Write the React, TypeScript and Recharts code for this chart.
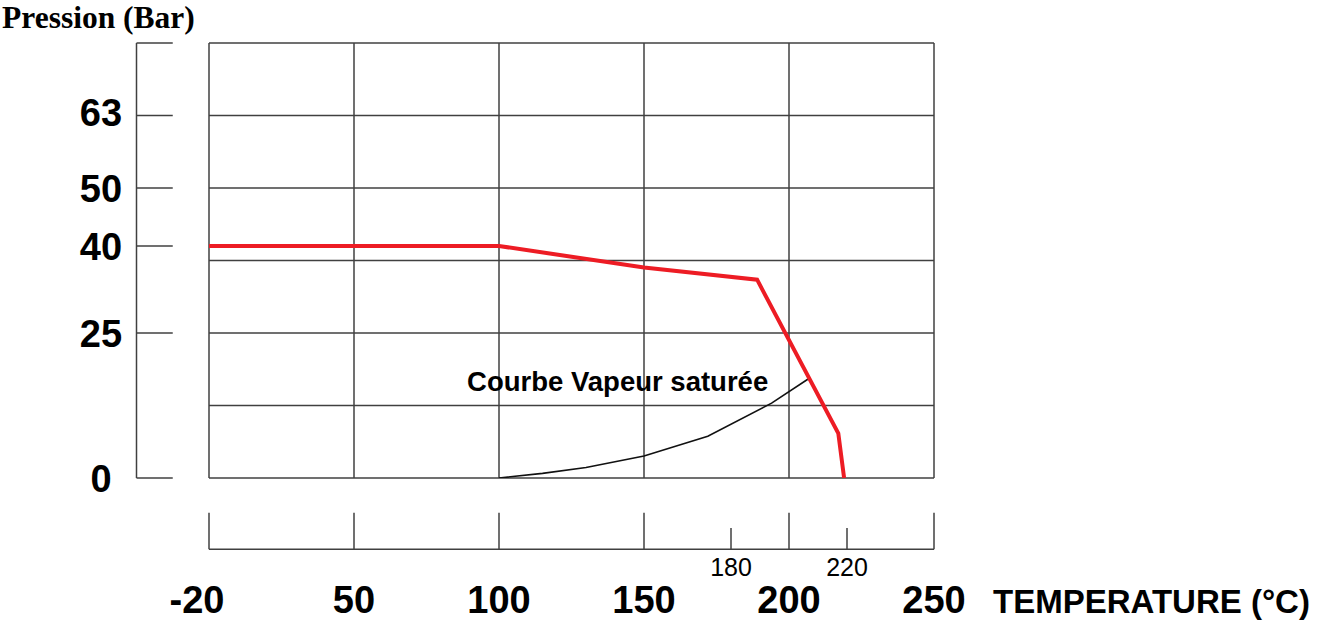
import { ComposedChart, Line, XAxis, YAxis, ReferenceLine, ReferenceDot } from "recharts"

// temperature (°C) -> axis position: -20..50 is squeezed into one step, then 50 °C per step
const toPos = (t: number) => (t <= 50 ? (t + 20) / 70 : 1 + (t - 50) / 50)
const fromPos = (p: number) => Math.round(p <= 1 ? p * 70 - 20 : 50 + (p - 1) * 50)

const majorTemps = [-20, 50, 100, 150, 200, 250]
const minorTemps = [180, 220]
const pressureTicks = [0, 25, 40, 50, 63]
const pressureMarks = [0, 25, 40, 50, 62.5, 75]
const gridPressures = [0, 12.5, 25, 37.5, 50, 62.5, 75]

// limite d'utilisation (rouge)
const limitTemps = [-20, 100, 150, 189, 217, 219]
const limitPressures = [40, 40, 36.3, 34.2, 7.7, 0]

// courbe vapeur saturée
const satTemps = [100, 115, 130, 150, 172, 194, 207]
const satPressures = [0, 0.8, 1.8, 3.8, 7.2, 12.9, 17.2]

const limitData = limitTemps.map((t, i) => ({ x: toPos(t), p: limitPressures[i] }))
const satData = satTemps.map((t, i) => ({ x: toPos(t), p: satPressures[i] }))

const GRID = "#404040"
const SANS = "'Liberation Sans', Arial, sans-serif"

// left scale band and bottom scale band, in axis units
const bandLeft = -0.5
const bandLeftEnd = -0.25
const bandTop = -6
const bandMinorTop = -8.6
const bandBottom = -12.3

const XTick = (props: any) => {
  const { x, y, payload } = props
  const t = fromPos(payload.value)
  if (minorTemps.includes(t)) {
    return (
      <text x={x} y={y + 98} textAnchor="middle" fontFamily={SANS} fontSize={25} fill="#000">
        {t}
      </text>
    )
  }
  return (
    <text
      x={t === -20 ? x - 12 : x}
      y={y + 135}
      textAnchor="middle"
      fontFamily={SANS}
      fontSize={38}
      fontWeight={700}
      fill="#000"
    >
      {t}
    </text>
  )
}

const YTick = (props: any) => {
  const { x, y, payload } = props
  return (
    <text x={x - 108} y={y + 13.5} textAnchor="middle" fontFamily={SANS} fontSize={38} fontWeight={700} fill="#000">
      {payload.value}
    </text>
  )
}

export default function App() {
  const xTicks = [...majorTemps, ...minorTemps].map(toPos)

  return (
    <div style={{ position: "absolute", left: 0, top: 0, width: 1317, height: 623, background: "#fff" }}>
      <div
        style={{
          position: "absolute",
          left: 2,
          top: 0,
          fontFamily: "'Liberation Serif', 'Times New Roman', serif",
          fontWeight: 700,
          fontSize: 31.5,
          lineHeight: "normal",
          whiteSpace: "nowrap"
        }}
      >
        Pression (Bar)
      </div>
      <div
        style={{
          position: "absolute",
          left: 993,
          top: 585,
          fontFamily: SANS,
          fontWeight: 700,
          fontSize: 33,
          lineHeight: "33px",
          whiteSpace: "nowrap"
        }}
      >
        TEMPERATURE (°C)
      </div>

      <ComposedChart width={1317} height={623} margin={{ top: 43, right: 383, bottom: 0, left: 0 }}>
        <XAxis
          type="number"
          dataKey="x"
          domain={[0, 5]}
          allowDataOverflow
          ticks={xTicks}
          interval={0}
          tick={<XTick />}
          tickSize={0}
          tickMargin={0}
          axisLine={false}
          tickLine={false}
          height={145}
        />
        <YAxis
          type="number"
          dataKey="p"
          domain={[0, 75]}
          allowDataOverflow
          ticks={pressureTicks}
          interval={0}
          tick={<YTick />}
          tickSize={0}
          tickMargin={0}
          axisLine={false}
          tickLine={false}
          width={209}
        />

        {/* grid */}
        {gridPressures.map(v => (
          <ReferenceLine key={"gy" + v} y={v} stroke={GRID} strokeWidth={1.5} ifOverflow="visible" />
        ))}
        {majorTemps.map(t => (
          <ReferenceLine key={"gx" + t} x={toPos(t)} stroke={GRID} strokeWidth={1.5} ifOverflow="visible" />
        ))}

        {/* left pressure scale */}
        <ReferenceLine
          segment={[{ x: bandLeft, y: 0 }, { x: bandLeft, y: 75 }]}
          stroke={GRID}
          strokeWidth={1.5}
          ifOverflow="visible"
        />
        {pressureMarks.map(v => (
          <ReferenceLine
            key={"pm" + v}
            segment={[{ x: bandLeft, y: v }, { x: bandLeftEnd, y: v }]}
            stroke={GRID}
            strokeWidth={1.5}
            ifOverflow="visible"
          />
        ))}

        {/* bottom temperature scale */}
        <ReferenceLine
          segment={[{ x: 0, y: bandBottom }, { x: 5, y: bandBottom }]}
          stroke={GRID}
          strokeWidth={1.5}
          ifOverflow="visible"
        />
        {majorTemps.map(t => (
          <ReferenceLine
            key={"bt" + t}
            segment={[{ x: toPos(t), y: bandTop }, { x: toPos(t), y: bandBottom }]}
            stroke={GRID}
            strokeWidth={1.5}
            ifOverflow="visible"
          />
        ))}
        {minorTemps.map(t => (
          <ReferenceLine
            key={"bm" + t}
            segment={[{ x: toPos(t), y: bandMinorTop }, { x: toPos(t), y: bandBottom }]}
            stroke={GRID}
            strokeWidth={1.5}
            ifOverflow="visible"
          />
        ))}

        <Line
          data={satData}
          dataKey="p"
          type="linear"
          stroke="#111"
          strokeWidth={1.6}
          dot={false}
          activeDot={false}
          isAnimationActive={false}
        />
        <Line
          data={limitData}
          dataKey="p"
          type="linear"
          stroke="#ed1c24"
          strokeWidth={4}
          dot={false}
          activeDot={false}
          isAnimationActive={false}
        />

        <ReferenceDot
          x={toPos(89)}
          y={15}
          r={0}
          ifOverflow="visible"
          shape={(p: any) => (
            <text x={p.cx} y={p.cy} fontFamily={SANS} fontSize={27.5} fontWeight={700} fill="#000">
              Courbe Vapeur saturée
            </text>
          )}
        />
      </ComposedChart>
    </div>
  )
}
